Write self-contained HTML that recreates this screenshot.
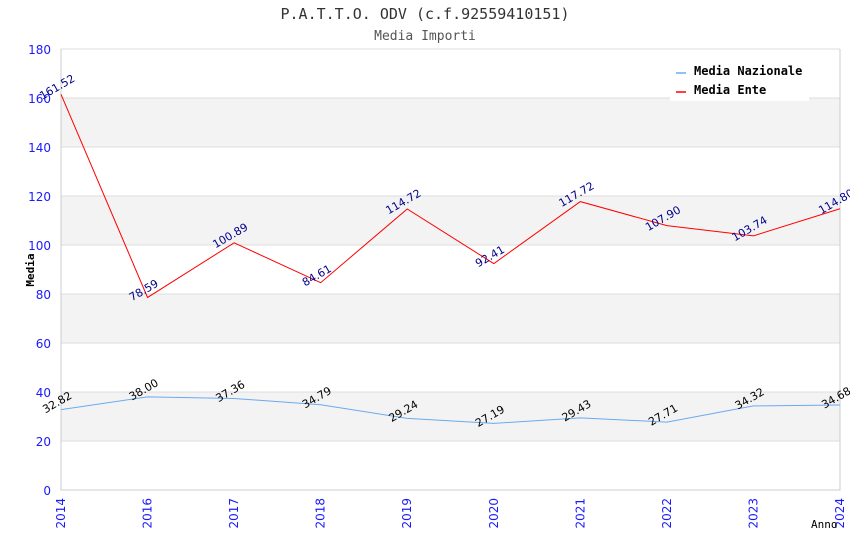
<!DOCTYPE html>
<html><head><meta charset="utf-8"><style>
body{margin:0;background:#fff;}
svg{display:block;font-family:"DejaVu Sans","Liberation Sans",sans-serif;}
</style></head><body>
<svg id="chart" width="850" height="550">
<text x="425" y="19" text-anchor="middle" font-family="DejaVu Sans Mono,Liberation Mono,monospace" font-size="15" fill="#333">P.A.T.T.O. ODV (c.f.92559410151)</text>
<text x="425" y="40" text-anchor="middle" font-family="DejaVu Sans Mono,Liberation Mono,monospace" font-size="13" fill="#555">Media Importi</text>
<g id="bands"></g><g id="grid"></g><g id="axes"></g><g id="series"></g><g id="labels"></g>
<text transform="translate(34,270) rotate(-90)" text-anchor="middle" font-family="DejaVu Sans Mono,monospace" font-size="11" font-weight="bold" fill="#000">Media</text>
<text x="811" y="528" font-family="DejaVu Sans Mono,monospace" font-size="11" fill="#000">Anno</text>
<g>
<rect x="670" y="60" width="139" height="41" fill="#fff"/>
<line x1="676" y1="73" x2="686" y2="73" stroke="#6aaaf0" stroke-width="1.5"/>
<text x="694" y="75" font-family="DejaVu Sans Mono,monospace" font-size="12" font-weight="bold">Media Nazionale</text>
<line x1="676" y1="92" x2="686" y2="92" stroke="#f00" stroke-width="1.5"/>
<text x="694" y="94" font-family="DejaVu Sans Mono,monospace" font-size="12" font-weight="bold">Media Ente</text>
</g>
</svg>
<script>
const categories=["2014","2016","2017","2018","2019","2020","2021","2022","2023","2024"];
const nazionale=[32.82,38.00,37.36,34.79,29.24,27.19,29.43,27.71,34.32,34.68];
const ente=[161.52,78.59,100.89,84.61,114.72,92.41,117.72,107.90,103.74,114.80];
const yTicks=[0,20,40,60,80,100,120,140,160,180];
const NS="http://www.w3.org/2000/svg";
const L=61,R=840,T=49,B=490,YMAX=180;
const x=i=>L+(R-L)*i/(categories.length-1);
const y=v=>B-(B-T)*v/YMAX;
function mk(tag,attrs,parent,txt){const e=document.createElementNS(NS,tag);for(const k in attrs)e.setAttribute(k,attrs[k]);if(txt!==undefined)e.textContent=txt;document.getElementById(parent).appendChild(e);return e;}
for(let i=0;i<yTicks.length-1;i++){
  if(i%2===1){const r=mk('rect',{x:L,y:y(yTicks[i+1]),width:R-L,height:y(yTicks[i])-y(yTicks[i+1]),fill:'#f3f3f3'},'bands');
  
  }
}
yTicks.forEach(v=>{
  const g=mk('line',{x1:L,x2:R,y1:y(v),y2:y(v),stroke:'#ddd'},'grid');
  
  
  const t=mk('text',{x:L-10,y:y(v)+5,'text-anchor':'end','font-size':12,fill:'#1a1aff'},'axes',String(v));
  
  
});
const ax=mk('path',{d:`M${L},${T}V${B}H${R}V${T}`,stroke:'#ccc',fill:'none'},'axes');


categories.forEach((c,i)=>{
  const t=mk('text',{transform:`translate(${x(i)+4},${B+8}) rotate(-90)`,'text-anchor':'end','font-size':12,fill:'#1a1aff'},'axes',c);
  
  
});
function series(vals,color,name,lc){
  const p=mk('polyline',{points:vals.map((v,i)=>x(i)+','+y(v)).join(' '),fill:'none',stroke:color,'stroke-width':1},'series');
  
  
  vals.forEach((v,i)=>{
    const t=mk('text',{transform:`translate(${x(i)-2},${y(v)-4}) rotate(-30)`,'text-anchor':'middle','font-size':11,fill:lc},'labels',v.toFixed(2));
    
    
  });
}
series(nazionale,'#6aaaf0','series-media-nazionale','#000');
series(ente,'#ff0000','series-media-ente','#00008b');
</script>
</body></html>
